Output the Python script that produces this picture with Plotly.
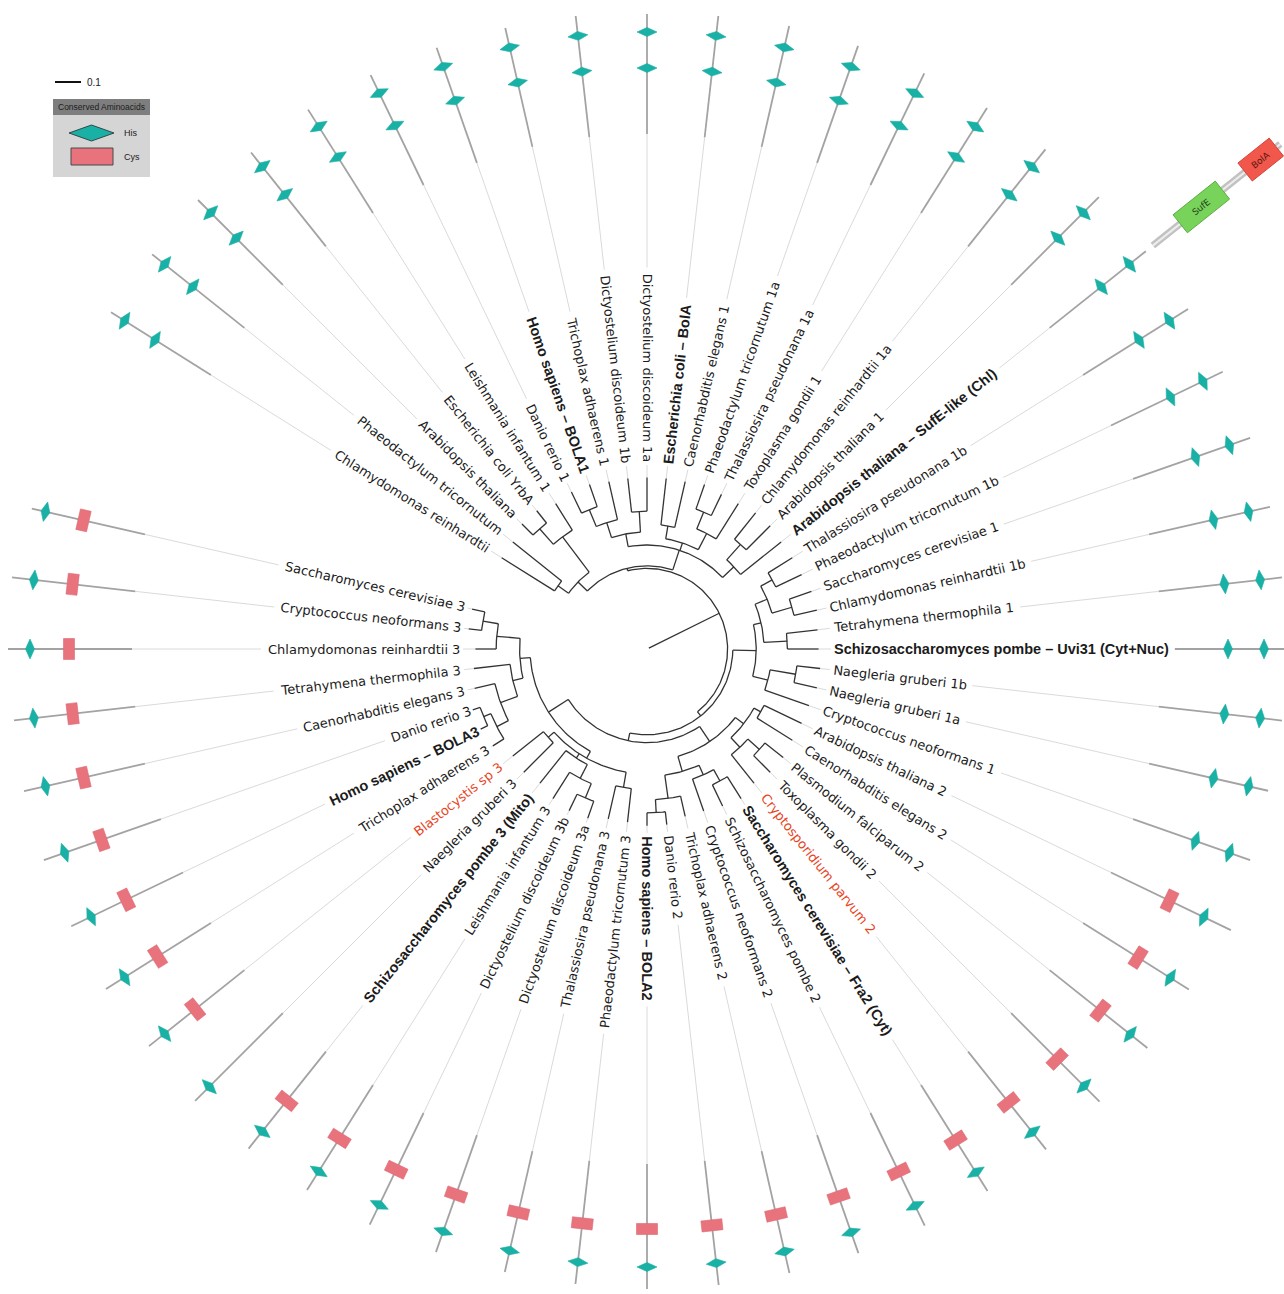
import math
import plotly.graph_objects as go

# ---------------------------------------------------------------------------
# Leaves in circular order (counter-clockwise, starting after the empty gap)
# ---------------------------------------------------------------------------
LEAVES = [
    "Saccharomyces cerevisiae 3", "Cryptococcus neoformans 3", "Chlamydomonas reinhardtii 3",
    "Tetrahymena thermophila 3", "Caenorhabditis elegans 3", "Danio rerio 3",
    "Homo sapiens – BOLA3", "Trichoplax adhaerens 3", "Blastocystis sp 3", "Naegleria gruberi 3",
    "Schizosaccharomyces pombe 3 (Mito)", "Leishmania infantum 3", "Dictyostelium discoideum 3b",
    "Dictyostelium discoideum 3a", "Thalassiosira pseudonana 3", "Phaeodactylum tricornutum 3",
    "Homo sapiens – BOLA2", "Danio rerio 2", "Trichoplax adhaerens 2", "Cryptococcus neoformans 2",
    "Schizosaccharomyces pombe 2", "Saccharomyces cerevisiae – Fra2 (Cyt)", "Cryptosporidium parvum 2",
    "Toxoplasma gondii 2", "Plasmodium falciparum 2", "Caenorhabditis elegans 2", "Arabidopsis thaliana 2",
    "Cryptococcus neoformans 1", "Naegleria gruberi 1a", "Naegleria gruberi 1b",
    "Schizosaccharomyces pombe – Uvi31 (Cyt+Nuc)", "Tetrahymena thermophila 1",
    "Chlamydomonas reinhardtii 1b", "Saccharomyces cerevisiae 1", "Phaeodactylum tricornutum 1b",
    "Thalassiosira pseudonana 1b", "Arabidopsis thaliana – SufE-like (Chl)", "Arabidopsis thaliana 1",
    "Chlamydomonas reinhardtii 1a", "Toxoplasma gondii 1", "Thalassiosira pseudonana 1a",
    "Phaeodactylum tricornutum 1a", "Caenorhabditis elegans 1", "Escherichia coli – BolA",
    "Dictyostelium discoideum 1a", "Dictyostelium discoideum 1b", "Trichoplax adhaerens 1",
    "Homo sapiens – BOLA1", "Danio rerio 1", "Leishmania infantum 1", "Escherichia coli YrbA",
    "Arabidopsis thaliana", "Phaeodactylum tricornutum", "Chlamydomonas reinhardtii",
]

# label style: "b" = bold reference protein, "r" = highlighted organism, "" = plain
LABEL_STYLE = [
    "", "", "", "", "", "", "b", "", "r", "",
    "b", "", "", "", "", "",
    "b", "", "", "", "", "b", "r", "", "", "", "",
    "", "", "",
    "b", "", "", "", "", "", "b", "", "", "", "", "", "", "b",
    "", "", "", "b", "", "", "", "", "", "",
]

# tip depth of every leaf (substitutions / site)
TIP_DEPTH = [
    0.69, 0.69, 0.66, 0.67, 0.68, 0.71, 0.71, 0.70, 0.66, 0.67,
    0.66, 0.68, 0.69, 0.69, 0.67, 0.67,
    0.68, 0.68, 0.66, 0.66, 0.67, 0.68, 0.66, 0.67, 0.67, 0.66, 0.66,
    0.66, 0.67, 0.67,
    0.66, 0.66, 0.67, 0.67, 0.66, 0.66, 0.66, 0.67, 0.67, 0.66, 0.66, 0.67, 0.66, 0.66,
    0.66, 0.66, 0.66, 0.67, 0.67, 0.66, 0.68, 0.68, 0.66, 0.66,
]

# tree topology: (node depth, [children]); integers are leaf indices
CLADE_BOLA3 = (0.45, [
    (0.49, [(0.58, [(0.64, [0, 1]), 2]),
            (0.53, [3, (0.60, [4, (0.65, [(0.68, [5, 6]), 7])])])]),
    (0.48, [(0.51, [8, 9]),
            (0.50, [10, (0.56, [11, (0.62, [12, 13])])]),
            (0.54, [14, 15])]),
])
CLADE_BOLA2 = (0.43, [
    (0.49, [(0.58, [(0.63, [16, 17]), 18]), (0.53, [19, (0.58, [20, 21])])]),
    (0.47, [(0.52, [22, (0.58, [23, 24])]), (0.50, [25, 26])]),
])
CLADE_UVI31 = (0.42, [
    (0.48, [27, (0.58, [28, 29])]),
    (0.45, [(0.54, [30, 31]), (0.50, [(0.58, [32, 33]), (0.55, [34, 35])])]),
])
CLADE_BOLA1 = (0.40, [
    (0.46, [36, (0.54, [37, 38])]),
    (0.43, [(0.50, [39, (0.57, [40, 41])]), (0.48, [42, 43])]),
    (0.45, [(0.53, [44, 45]), (0.51, [46, (0.58, [47, 48])])]),
])
CLADE_YRBA = (0.37, [
    (0.54, [49, (0.62, [50, 51])]),
    (0.42, [52, 53]),
])
TREE = (0.008, [(0.31, [
    (0.33, [(0.36, [CLADE_BOLA3, CLADE_BOLA2]), CLADE_UVI31]),
    (0.32, [CLADE_BOLA1, CLADE_YRBA]),
])])

# conserved residues along each protein (residue positions) and protein lengths
HIS_SITES = (
    [[102]] * 9 + [[104]] + [[102]] * 6 +
    [[103]] * 11 +
    [[66, 102]] * 27
)
CYS_SITES = [63] * 9 + [None] + [63] * 6 + [65] * 11 + [None] * 27
PROT_LEN = (
    [116, 124, 124, 122, 124, 124, 124, 124, 122, 124, 124, 124, 124, 124, 124, 124] +
    [125, 125, 125, 125, 125, 125, 125, 125, 125, 125, 133] +
    [124, 122, 124, 140, 124, 124, 124, 124, 124, 123, 124, 124, 124, 124, 124, 124, 122,
     120, 122, 122, 122, 122, 122, 120, 120, 118, 118]
)
# SufE-like fusion protein: extra domains (start, end) beyond the BolA part
FUSION_LEAF = 36
FUSION_TUBE = (132, 295)
FUSION_DOMAINS = [("SufE", 167, 221), ("BolA", 250, 290)]

SCALE_BAR = 0.1

# ---------------------------------------------------------------------------
# geometry
# ---------------------------------------------------------------------------
W, H = 1284, 1294
CX, CY = 647, 649          # centre of the circular tree (page pixels)
N_SLOTS = 56               # 54 leaves + 2 empty slots
STEP = 360.0 / N_SLOTS
START = -90.0 - 16 * STEP
UNIT_PX = 260.0            # pixels per substitution / site
R_LABEL = 187.0
R_DOMAIN = 515.0

REG_FONT = "DejaVu Sans"
REG_SIZE = 13
BOLD_FONT = "Liberation Sans"
BOLD_SIZE = 14.5

DEJAVU = {" ": 651, "(": 799, ")": 799, "+": 1716, "–": 1024, "-": 739, ".": 651,
          "A": 1401, "B": 1405, "C": 1430, "D": 1577, "E": 1294, "F": 1178, "G": 1587,
          "H": 1540, "I": 604, "J": 604, "K": 1343, "L": 1141, "M": 1767, "N": 1532,
          "O": 1612, "P": 1235, "Q": 1612, "R": 1423, "S": 1300, "T": 1251, "U": 1499,
          "V": 1401, "W": 2025, "X": 1403, "Y": 1251, "Z": 1403,
          "a": 1255, "b": 1300, "c": 1126, "d": 1300, "e": 1260, "f": 721, "g": 1300,
          "h": 1298, "i": 569, "j": 569, "k": 1186, "l": 569, "m": 1995, "n": 1298,
          "o": 1253, "p": 1300, "q": 1300, "r": 842, "s": 1067, "t": 803, "u": 1298,
          "v": 1212, "w": 1675, "x": 1212, "y": 1212, "z": 1075}
ARIAL_B = {" ": 278, "(": 333, ")": 333, "+": 584, "–": 556, "-": 333, ".": 278,
           "A": 722, "B": 722, "C": 722, "D": 722, "E": 667, "F": 611, "G": 778, "H": 722,
           "I": 278, "J": 556, "K": 722, "L": 611, "M": 833, "N": 722, "O": 778, "P": 667,
           "Q": 778, "R": 722, "S": 667, "T": 611, "U": 722, "V": 667, "W": 944, "X": 667,
           "Y": 667, "Z": 611,
           "a": 556, "b": 611, "c": 556, "d": 611, "e": 556, "f": 333, "g": 611, "h": 611,
           "i": 278, "j": 278, "k": 556, "l": 278, "m": 889, "n": 611, "o": 611, "p": 611,
           "q": 611, "r": 389, "s": 556, "t": 333, "u": 611, "v": 556, "w": 778, "x": 556,
           "y": 556, "z": 500}


def text_width(s, bold):
    if bold:
        return sum(ARIAL_B.get(c, 556) for c in s) / 1000.0 * BOLD_SIZE
    return sum(DEJAVU.get(c, 1303) for c in s) / 2048.0 * REG_SIZE


def leaf_angle(p):
    return round(START + p * STEP, 6)


def pol(r, a):
    t = math.radians(a)
    return r * math.cos(t), r * math.sin(t)


def pix(xp, yp):
    return xp - CX, CY - yp


# ---------------------------------------------------------------------------
# tree branches
# ---------------------------------------------------------------------------
tree_x, tree_y = [], []


def place(node):
    if isinstance(node, int):
        return leaf_angle(node), TIP_DEPTH[node] * UNIT_PX
    depth, kids = node
    r = depth * UNIT_PX
    info = [place(k) for k in kids]
    angs = [a for a, _ in info]
    a0, a1 = min(angs), max(angs)
    n = max(2, int(abs(a1 - a0) / 1.0) + 2)
    for j in range(n):
        x, y = pol(r, a0 + (a1 - a0) * j / (n - 1))
        tree_x.append(x)
        tree_y.append(y)
    tree_x.append(None)
    tree_y.append(None)
    for a, rc in info:
        x0, y0 = pol(r, a)
        x1, y1 = pol(rc, a)
        tree_x.extend([x0, x1, None])
        tree_y.extend([y0, y1, None])
    return (a0 + a1) / 2.0, r


place(TREE)

# ---------------------------------------------------------------------------
# labels, connectors and protein diagrams
# ---------------------------------------------------------------------------
annotations = []
light_x, light_y = [], []
dark_x, dark_y = [], []
his_x, his_y = [], []
cys_x, cys_y = [], []


def seg(xs, ys, r0, r1, a):
    x0, y0 = pol(r0, a)
    x1, y1 = pol(r1, a)
    xs.extend([x0, x1, None])
    ys.extend([y0, y1, None])


def quad(xs, ys, r, a, half_along, half_across, diamond):
    t = math.radians(a)
    ux, uy = math.cos(t), math.sin(t)
    vx, vy = -uy, ux
    cx, cy = r * ux, r * uy
    if diamond:
        pts = [(cx + ux * half_along, cy + uy * half_along),
               (cx + vx * half_across, cy + vy * half_across),
               (cx - ux * half_along, cy - uy * half_along),
               (cx - vx * half_across, cy - vy * half_across)]
    else:
        pts = [(cx + ux * half_along + vx * half_across, cy + uy * half_along + vy * half_across),
               (cx - ux * half_along + vx * half_across, cy - uy * half_along + vy * half_across),
               (cx - ux * half_along - vx * half_across, cy - uy * half_along - vy * half_across),
               (cx + ux * half_along - vx * half_across, cy + uy * half_along - vy * half_across)]
    pts.append(pts[0])
    for px_, py_ in pts:
        xs.append(px_)
        ys.append(py_)
    xs.append(None)
    ys.append(None)


for p, name in enumerate(LEAVES):
    a = leaf_angle(p)
    style = LABEL_STYLE[p]
    bold = style == "b"
    w = text_width(name, bold)
    # text orientation: read outward on the right half, inward on the left half
    an = a
    while an < -90:
        an += 360
    while an >= 270:
        an -= 360
    tangle = -an if an < 90 else 180 - an
    cx_, cy_ = pol(R_LABEL + w / 2.0, a)
    annotations.append(dict(
        x=cx_, y=cy_, xref="x", yref="y", text=("<b>%s</b>" % name) if bold else name,
        showarrow=False, textangle=tangle, xanchor="center", yanchor="middle", borderpad=0,
        font=dict(family=BOLD_FONT if bold else REG_FONT, size=BOLD_SIZE if bold else REG_SIZE,
                  color="#e8461f" if style == "r" else "#1b1b1b"),
    ))
    tip = TIP_DEPTH[p] * UNIT_PX
    if R_LABEL - 3 > tip:
        seg(light_x, light_y, tip, R_LABEL - 3, a)
    label_end = R_LABEL + w + 6
    if label_end < R_DOMAIN:
        seg(light_x, light_y, label_end, R_DOMAIN, a)
    seg(dark_x, dark_y, max(R_DOMAIN, label_end), R_DOMAIN + PROT_LEN[p], a)
    for h in HIS_SITES[p]:
        quad(his_x, his_y, R_DOMAIN + h, a, 4.5, 10.0, True)
    if CYS_SITES[p] is not None:
        quad(cys_x, cys_y, R_DOMAIN + CYS_SITES[p], a, 5.5, 10.5, False)

fig = go.Figure()
fig.add_trace(go.Scatter(x=light_x, y=light_y, mode="lines",
                         line=dict(color="#dadada", width=1), hoverinfo="skip"))
fig.add_trace(go.Scatter(x=dark_x, y=dark_y, mode="lines",
                         line=dict(color="#a3a3a3", width=1.8), hoverinfo="skip"))
fig.add_trace(go.Scatter(x=tree_x, y=tree_y, mode="lines",
                         line=dict(color="#333333", width=1.3), hoverinfo="skip"))

# SufE-like fusion protein: tube plus the two extra domains
fa = leaf_angle(FUSION_LEAF)
tx, ty = [], []
seg(tx, ty, R_DOMAIN + FUSION_TUBE[0], R_DOMAIN + FUSION_TUBE[1], fa)
fig.add_trace(go.Scatter(x=tx, y=ty, mode="lines", line=dict(color="#c2c2c2", width=7),
                         hoverinfo="skip"))
fig.add_trace(go.Scatter(x=tx, y=ty, mode="lines", line=dict(color="#ededed", width=2),
                         hoverinfo="skip"))
dom_colors = {"SufE": ("#78d35b", "#5aae41", "#24401a"), "BolA": ("#f2574b", "#d6443a", "#5b1510")}
for label, d0, d1 in FUSION_DOMAINS:
    bx, by = [], []
    mid = R_DOMAIN + (d0 + d1) / 2.0
    quad(bx, by, mid, fa, (d1 - d0) / 2.0, 11.5, False)
    fill, edge, tc = dom_colors[label]
    fig.add_trace(go.Scatter(x=bx, y=by, mode="lines", fill="toself", fillcolor=fill,
                             line=dict(color=edge, width=1), hoverinfo="skip"))
    mx, my = pol(mid, fa)
    annotations.append(dict(x=mx, y=my, xref="x", yref="y", text=label, showarrow=False,
                            textangle=-fa, xanchor="center", yanchor="middle",
                            font=dict(family="DejaVu Sans", size=9, color=tc)))

fig.add_trace(go.Scatter(x=cys_x, y=cys_y, mode="lines", fill="toself", fillcolor="#e8737c",
                         line=dict(color="#dc6872", width=0.6), hoverinfo="skip"))
fig.add_trace(go.Scatter(x=his_x, y=his_y, mode="lines", fill="toself", fillcolor="#19b0a5",
                         line=dict(color="#19b0a5", width=0.6), hoverinfo="skip"))

# ---------------------------------------------------------------------------
# scale bar and legend
# ---------------------------------------------------------------------------
shapes = []
sb0 = pix(55, 82)
sb1 = (sb0[0] + SCALE_BAR * UNIT_PX, sb0[1])
shapes.append(dict(type="line", xref="x", yref="y", x0=sb0[0], y0=sb0[1], x1=sb1[0], y1=sb1[1],
                   line=dict(color="#111111", width=2)))
tx_, ty_ = pix(85, 82)
annotations.append(dict(x=tx_, y=ty_, xref="x", yref="y", text=str(SCALE_BAR), showarrow=False,
                        xanchor="left", yanchor="middle",
                        font=dict(family="Liberation Sans", size=10, color="#222222")))

b0 = pix(53, 99)
b1 = pix(150, 177)
shapes.append(dict(type="rect", xref="x", yref="y", x0=b0[0], y0=b1[1], x1=b1[0], y1=b0[1],
                   fillcolor="#d5d5d5", line=dict(width=0)))
h1 = pix(150, 115)
shapes.append(dict(type="rect", xref="x", yref="y", x0=b0[0], y0=h1[1], x1=h1[0], y1=b0[1],
                   fillcolor="#7e7e7e", line=dict(width=0)))
hx, hy = pix(101.5, 107)
annotations.append(dict(x=hx, y=hy, xref="x", yref="y", text="Conserved Aminoacids",
                        showarrow=False, xanchor="center", yanchor="middle",
                        font=dict(family="Liberation Sans", size=8.5, color="#1c1c1c")))
d = [pix(69, 133), pix(91.5, 125), pix(114, 133), pix(91.5, 141)]
path = "M %f %f L %f %f L %f %f L %f %f Z" % (d[0] + d[1] + d[2] + d[3])
shapes.append(dict(type="path", xref="x", yref="y", path=path, fillcolor="#19b0a5",
                   line=dict(color="#2f4a47", width=1)))
r0 = pix(71, 148)
r1 = pix(113, 165)
shapes.append(dict(type="rect", xref="x", yref="y", x0=r0[0], y0=r1[1], x1=r1[0], y1=r0[1],
                   fillcolor="#e8737c", line=dict(color="#4a4a4a", width=1)))
for txt, yp in (("His", 133), ("Cys", 157)):
    lx, ly = pix(122, yp)
    annotations.append(dict(x=lx, y=ly, xref="x", yref="y", text=txt, showarrow=False,
                            xanchor="left", yanchor="middle",
                            font=dict(family="Liberation Sans", size=9, color="#222222")))

fig.update_layout(
    width=W, height=H, margin=dict(l=0, r=0, t=0, b=0),
    paper_bgcolor="white", plot_bgcolor="white", showlegend=False,
    xaxis=dict(range=[-CX, W - CX], visible=False, fixedrange=True),
    yaxis=dict(range=[CY - H, CY], visible=False, fixedrange=True),
    annotations=annotations, shapes=shapes,
)
fig.write_html("out.html")
